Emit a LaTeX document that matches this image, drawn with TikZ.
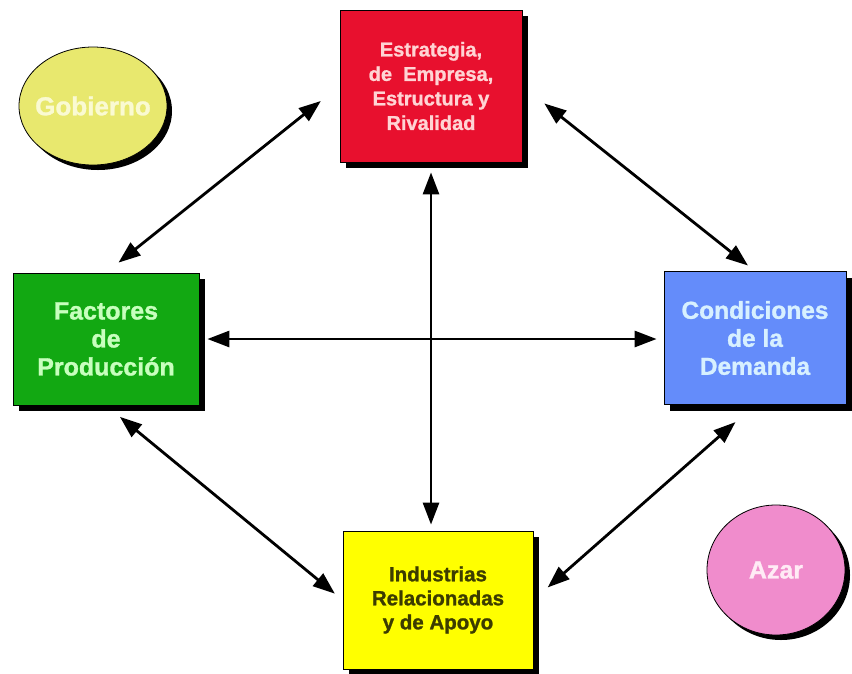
\documentclass[tikz,border=0pt]{standalone}
\usepackage{fontspec}
\setmainfont{Liberation Sans}[BoldFeatures={FakeBold=1.2}]
\usetikzlibrary{arrows.meta,shadows,shapes.geometric}

\definecolor{rojo}{RGB}{232,16,46}
\definecolor{verde}{RGB}{18,168,18}
\definecolor{azul}{RGB}{100,140,250}
\definecolor{amarillo}{RGB}{255,255,0}
\definecolor{gobfill}{RGB}{232,232,110}
\definecolor{azarfill}{RGB}{240,140,204}

\tikzset{
	caja/.style={draw=black, line width=0.8pt, inner sep=0pt, align=center,
		drop shadow={shadow xshift=6pt, shadow yshift=-6pt, fill=black, opacity=1}},
	globo/.style={ellipse, draw=black, line width=0.8pt, inner sep=0pt,
		drop shadow={shadow xshift=5pt, shadow yshift=-5pt, fill=black, opacity=1}},
	enlace/.style={line width=2.8pt, {Triangle[length=22pt,width=16pt]}-{Triangle[length=22pt,width=16pt]}},
}

\begin{document}
\begin{tikzpicture}[x=1pt, y=-1pt]
	\useasboundingbox (0,0) rectangle (852,673);
	
	% cajas
	\node[caja, fill=rojo, minimum width=182pt, minimum height=152pt, text={rgb,255:red,255;green,212;blue,212},
		font=\fontsize{20}{24.5}\selectfont\bfseries] (estrategia) at (431,86)
		{Estrategia,\\de\ \ Empresa,\\Estructura y\\Rivalidad};
	\node[caja, fill=verde, minimum width=186pt, minimum height=132pt, text={rgb,255:red,200;green,255;blue,190},
		font=\fontsize{25}{28}\selectfont\bfseries] (factores) at (106,339)
		{Factores\\de\\Producción};
	\node[caja, fill=azul, minimum width=182pt, minimum height=133pt, text={rgb,255:red,215;green,240;blue,255},
		font=\fontsize{24.5}{28}\selectfont\bfseries] (demanda) at (755,338)
		{Condiciones\\de la\\Demanda};
	\node[caja, fill=amarillo, minimum width=190pt, minimum height=138pt, text={rgb,255:red,60;green,60;blue,0},
		font=\fontsize{20.5}{24}\selectfont\bfseries] (industrias) at (438,600)
		{Industrias\\Relacionadas\\y de Apoyo};
	
	% globos
	\node[globo, fill=gobfill, minimum width=148pt, minimum height=118pt, text={rgb,255:red,250;green,250;blue,210},
		font=\fontsize{26}{30}\selectfont\bfseries] (gobierno) at (93,106) {\makebox[0pt][c]{Gobierno}};
	\node[globo, fill=azarfill, minimum width=138pt, minimum height=130pt, text={rgb,255:red,255;green,235;blue,245},
		font=\fontsize{25}{28}\selectfont\bfseries] (azar) at (776,570) {Azar};
	
	% flechas
	\draw[enlace, shorten <=24pt, shorten >=16pt] (estrategia.west) -- (factores.north);
	\draw[enlace, shorten <=28pt, shorten >=9pt] (estrategia.east) -- (demanda.north);
	\draw[enlace, shorten <=10pt, shorten >=6pt] (estrategia.south) -- (estrategia.south |- industrias.north);
	\draw[enlace, shorten <=8pt, shorten >=7pt] (factores.east) -- (factores.east -| demanda.west);
	\draw[enlace, shorten <=18pt, shorten >=10pt] (factores.south) -- (industrias.west);
	\draw[enlace, shorten <=19pt, shorten >=26pt] (industrias.east) -- (demanda.south);
\end{tikzpicture}
\end{document}
